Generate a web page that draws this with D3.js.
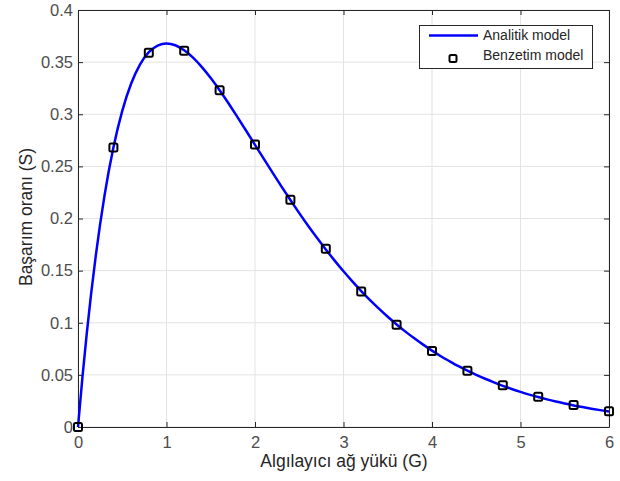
<!DOCTYPE html>
<html><head><meta charset="utf-8">
<script src="https://cdn.jsdelivr.net/npm/d3@7"></script>
<style>body{margin:0;background:#fff;}svg{display:block;font-family:"Liberation Sans",Arial,sans-serif;}</style>
</head><body><svg id="c" width="620" height="481"></svg>
<script>
const curveG = [0,0.05,0.1,0.2,0.3,0.4,0.5,0.6,0.7,0.8,0.9,1.0,1.1,1.2,1.3,1.4,1.5,1.6,1.7,1.8,1.9,2.0,2.1,2.2,2.3,2.4,2.5,2.6,2.7,2.8,2.9,3.0,3.1,3.2,3.3,3.4,3.5,3.6,3.7,3.8,3.9,4.0,4.1,4.2,4.3,4.4,4.5,4.6,4.7,4.8,4.9,5.0,5.1,5.2,5.3,5.4,5.5,5.6,5.7,5.8,5.9,6.0];
const curveS = [0,0.0476,0.0905,0.1637,0.2222,0.2681,0.3033,0.3293,0.3476,0.3595,0.3659,0.3679,0.3662,0.3614,0.3543,0.3452,0.3347,0.3230,0.3106,0.2975,0.2842,0.2707,0.2572,0.2438,0.2306,0.2177,0.2052,0.1931,0.1815,0.1703,0.1596,0.1494,0.1397,0.1304,0.1217,0.1135,0.1057,0.0984,0.0915,0.0851,0.0790,0.0733,0.0679,0.0630,0.0583,0.0540,0.0500,0.0463,0.0428,0.0395,0.0365,0.0337,0.0311,0.0287,0.0265,0.0244,0.0225,0.0207,0.0191,0.0176,0.0162,0.0149];
const simG = [0,0.4,0.8,1.2,1.6,2.0,2.4,2.8,3.2,3.6,4.0,4.4,4.8,5.2,5.6,6.0];
const simS = [0,0.268,0.359,0.361,0.323,0.271,0.218,0.171,0.130,0.098,0.073,0.054,0.040,0.029,0.021,0.015];
const xTicks = [0,1,2,3,4,5,6];
const yTicks = [0,0.05,0.1,0.15,0.2,0.25,0.3,0.35,0.4];
const yTickLabels = ["0","0.05","0.1","0.15","0.2","0.25","0.3","0.35","0.4"];
const legendLabels = ["Analitik model","Benzetim model"];
const xLabel = "Algılayıcı ağ yükü (G)";
const yLabel = "Başarım oranı (S)";

const svg = d3.select("#c");
const L=78, R=609, T=10, B=427;
const x = d3.scaleLinear().domain([0,6]).range([L,R]);
const y = d3.scaleLinear().domain([0,0.4]).range([B,T]);
const axisCol = "#262626", gridCol = "#e3e3e3";

// grid
svg.append("g").selectAll("line.gx").data(xTicks).join("line")
  .attr("x1",d=>x(d)).attr("x2",d=>x(d)).attr("y1",T).attr("y2",B)
  .attr("stroke",gridCol).attr("stroke-width",1);
svg.append("g").selectAll("line.gy").data(yTicks).join("line")
  .attr("y1",d=>y(d)).attr("y2",d=>y(d)).attr("x1",L).attr("x2",R)
  .attr("stroke",gridCol).attr("stroke-width",1);

// axes
const xAxis = svg.append("g").attr("transform",`translate(0,${B})`)
  .call(d3.axisBottom(x).tickValues(xTicks).tickSizeInner(-5).tickSizeOuter(0).tickPadding(9).tickFormat(d3.format("d")));
const yAxis = svg.append("g").attr("transform",`translate(${L},0)`)
  .call(d3.axisLeft(y).tickValues(yTicks).tickSizeInner(-5).tickSizeOuter(0).tickPadding(5).tickFormat((d,i)=>yTickLabels[i]));
const xTop = svg.append("g").attr("transform",`translate(0,${T})`)
  .call(d3.axisTop(x).tickValues(xTicks).tickSizeInner(-5).tickSizeOuter(0).tickFormat(""));
const yRight = svg.append("g").attr("transform",`translate(${R},0)`)
  .call(d3.axisRight(y).tickValues(yTicks).tickSizeInner(-5).tickSizeOuter(0).tickFormat(""));
[xAxis,yAxis,xTop,yRight].forEach(g=>{
  g.select(".domain").attr("stroke",axisCol).attr("stroke-width",1);
  g.selectAll(".tick line").attr("stroke",axisCol);
  g.selectAll(".tick text").attr("fill","#4d4d4d").attr("font-size",16.5).attr("font-family","Liberation Sans, Arial, sans-serif");
});

// curve
const line = d3.line().x((d,i)=>x(curveG[i])).y((d,i)=>y(curveS[i])).curve(d3.curveMonotoneX);
svg.append("path").datum(curveS).attr("d",line).attr("fill","none")
  .attr("stroke","#0000ff").attr("stroke-width",2.5);

// markers
svg.append("g").selectAll("rect").data(simS).join("rect")
  .attr("x",(d,i)=>x(simG[i])-4).attr("y",d=>y(d)-4).attr("width",8).attr("height",8)
  .attr("rx",1.5).attr("fill","none").attr("stroke","#000").attr("stroke-width",2);

// labels
svg.append("text").attr("x",344).attr("y",467).attr("text-anchor","middle")
  .attr("font-size",17.5).attr("fill","#262626").text(xLabel);
svg.append("text").attr("transform",`translate(32,${217}) rotate(-90)`).attr("text-anchor","middle")
  .attr("font-size",17.5).attr("fill","#262626").text(yLabel);

// legend
const lg = svg.append("g");
lg.append("rect").attr("x",419.5).attr("y",25.5).attr("width",173).attr("height",43)
  .attr("fill","#fff").attr("stroke","#262626").attr("stroke-width",1);
lg.append("line").attr("x1",429).attr("x2",478).attr("y1",35.5).attr("y2",35.5)
  .attr("stroke","#0000ff").attr("stroke-width",2.5);
lg.append("rect").attr("x",449.5).attr("y",55).attr("width",7).attr("height",7).attr("rx",1.5)
  .attr("fill","none").attr("stroke","#000").attr("stroke-width",2);
lg.selectAll("text").data(legendLabels).join("text")
  .attr("x",483).attr("y",(d,i)=>40+i*20).attr("font-size",14).attr("fill","#262626").text(d=>d);
</script></body></html>
